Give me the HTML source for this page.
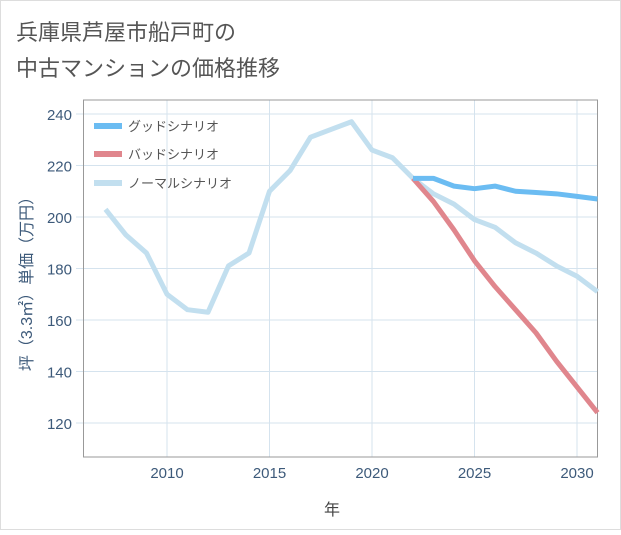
<!DOCTYPE html>
<html><head><meta charset="utf-8"><style>
body{margin:0;background:#fff}
svg text{font-family:"Liberation Sans","Noto Sans CJK JP",sans-serif}
</style></head><body>
<svg width="621" height="530">
<rect x="0.5" y="0.5" width="620" height="529" fill="#fff" stroke="#ddd"/>
<text x="16" y="40" font-size="22" fill="#555">兵庫県芦屋市船戸町の</text>
<text x="16" y="76" font-size="22" fill="#555">中古マンションの価格推移</text>
<g id="grid"></g>
<rect x="83.5" y="100" width="514" height="357" fill="none" stroke="#999"/>
<g id="ticks"></g>
<g id="lines"></g>
<text x="332" y="515" font-size="16" fill="#444" text-anchor="middle">年</text>
<text transform="translate(32,280) rotate(-90)" font-size="16" fill="#3d5a7a" text-anchor="middle">坪（3.3㎡）単価（万円）</text>
<g>
<rect x="94" y="123" width="28" height="6" fill="#6bbcf2"/>
<text x="128" y="131" font-size="13" fill="#555">グッドシナリオ</text>
<rect x="94" y="151" width="28" height="6" fill="#e0868d"/>
<text x="128" y="159" font-size="13" fill="#555">バッドシナリオ</text>
<rect x="94" y="180" width="28" height="6" fill="#c2dfef"/>
<text x="128" y="188" font-size="13" fill="#555">ノーマルシナリオ</text>
</g>
</svg>
<script>
const years=[2007,2008,2009,2010,2011,2012,2013,2014,2015,2016,2017,2018,2019,2020,2021,2022,2023,2024,2025,2026,2027,2028,2029,2030,2031];
const normal=[203,193,186,170,164,163,181,186,210,218,231,234,237,226,223,215,209,205,199,196,190,186,181,177,171];
const goodYears=[2022,2023,2024,2025,2026,2027,2028,2029,2030,2031];
const good=[215,215,212,211,212,210,209.5,209,208,207];
const bad=[215,206,195,183,173,164,155,144,134,124];
const xTicks=[2010,2015,2020,2025,2030];
const yTicks=[120,140,160,180,200,220,240];
const X=y=>167+(y-2010)*20.5;
const Y=v=>114+(240-v)*2.575;
const NS='http://www.w3.org/2000/svg';
function mk(tag,attrs,parent){const e=document.createElementNS(NS,tag);for(const k in attrs)e.setAttribute(k,attrs[k]);document.getElementById(parent).appendChild(e);return e;}
xTicks.forEach(t=>{
 const l=mk('line',{x1:X(t),x2:X(t),y1:100,y2:457,stroke:'#d5e3ee'},'grid');
 
 
 const tx=mk('text',{x:X(t),y:478,'font-size':15,fill:'#3d5a7a','text-anchor':'middle'},'ticks');
 tx.textContent=t;
 
 
});
yTicks.forEach(t=>{
 const l=mk('line',{x1:76,x2:597,y1:Y(t),y2:Y(t),stroke:'#d5e3ee'},'grid');
 
 
 const tx=mk('text',{x:72,y:Y(t)+6,'font-size':15,fill:'#3d5a7a','text-anchor':'end'},'ticks');
 tx.textContent=t;
 
 
});
function line(xs,vs,color,name){
 const p=mk('polyline',{points:xs.map((y,i)=>X(y)+','+Y(vs[i])).join(' '),fill:'none',stroke:color,'stroke-width':5,'stroke-linejoin':'round'},'lines');
 
 
}
line(years,normal,'#c2dfef','normal-line');
line(goodYears,bad,'#e0868d','bad-line');
line(goodYears,good,'#6bbcf2','good-line');
</script>
</body></html>
